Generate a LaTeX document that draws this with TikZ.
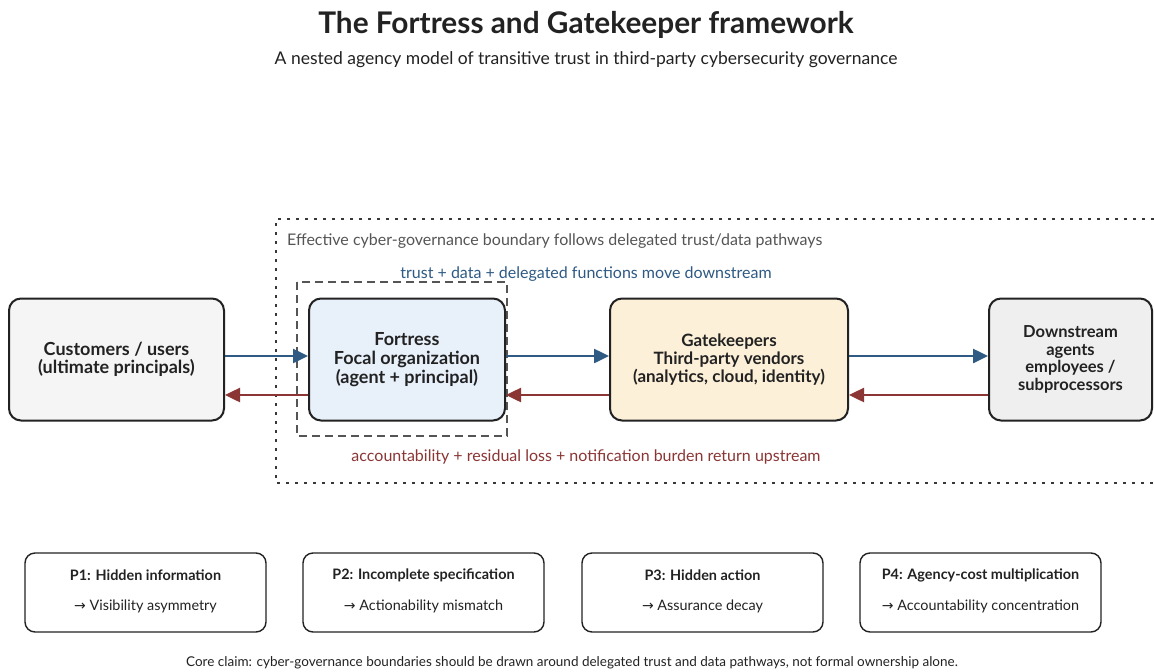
\documentclass[tikz,border=0pt]{standalone}
\usepackage{fontspec}
\setmainfont{Lato}
\newfontfamily\arrowfont{DejaVu Sans}
\usetikzlibrary{arrows.meta}
\definecolor{ink}{HTML}{222222}
\definecolor{bluec}{HTML}{2E5A84}
\definecolor{redc}{HTML}{8B3535}
\definecolor{grayt}{HTML}{555555}
\definecolor{custfill}{HTML}{F5F5F5}
\definecolor{fortfill}{HTML}{E8F0FA}
\definecolor{gatefill}{HTML}{FDF0D9}
\definecolor{downfill}{HTML}{EFEFEF}
\tikzset{
  mainbox/.style={draw=ink, line width=2pt, rounded corners=12pt, minimum height=122pt,
    align=center, text=ink, inner sep=2pt},
  pbox/.style={draw=ink, line width=1.4pt, rounded corners=10pt, minimum width=241pt,
    minimum height=79pt, inner sep=0pt},
  bluearr/.style={draw=bluec, line width=2.5pt, -{Triangle[length=15pt,width=14pt]}},
  redarr/.style={draw=redc, line width=2.5pt, -{Triangle[length=15pt,width=14pt]}},
  lbl/.style={font=\fontsize{16}{19}\selectfont, inner sep=0pt},
  ptitle/.style={font=\fontsize{14.4}{17}\selectfont\bfseries, text=ink, inner sep=0pt},
  ptext/.style={font=\fontsize{14.4}{17}\selectfont, text=ink, inner sep=0pt}
}
\newcommand{\rarr}{{\arrowfont\fontsize{14}{16}\selectfont →}}
\begin{document}
\begin{tikzpicture}[x=1pt,y=-1pt]
\useasboundingbox[fill=white] (0,0) rectangle (1154,672);

\node[font=\fontsize{29.8}{34}\selectfont\bfseries, text=ink, inner sep=0pt] (title) at (586,24.5) {The Fortress and Gatekeeper framework};
\node[font=\fontsize{17.5}{21}\selectfont, text=ink, inner sep=0pt] (sub) at (586,60) {A nested agency model of transitive trust in third-party cybersecurity governance};

% boundary
\draw[color=ink!90, line width=2pt, dash pattern=on 2.6pt off 6.4pt] (1154,219) -- (276,219) -- (276,483) -- (1154,483);
\node[lbl, text=grayt, anchor=west] (blab) at (287,241.5) {Effective cyber-governance boundary follows delegated trust/data pathways};

\node[lbl, text=bluec] (downlab) at (586,274) {trust + data + delegated functions move downstream};
\node[lbl, text=redc] (uplab) at (586,456.5) {accountability + residual loss + notification burden return upstream};

% dashed fortress frame
\draw[color=grayt, line width=1.8pt, dash pattern=on 8pt off 5pt] (297,282) rectangle (507,436);

\node[mainbox, fill=custfill, minimum width=215pt, font=\fontsize{18}{18.5}\selectfont\bfseries] (cust) at (116.5,359.5) {Customers / users\\(ultimate principals)};
\node[mainbox, fill=fortfill, minimum width=196pt, font=\fontsize{18}{19}\selectfont\bfseries] (fort) at (407,359.5) {Fortress\\Focal organization\\(agent + principal)};
\node[mainbox, fill=gatefill, minimum width=238pt, font=\fontsize{17}{18}\selectfont\bfseries] (gate) at (729,359.5) {Gatekeepers\\Third-party vendors\\(analytics, cloud, identity)};
\node[mainbox, fill=downfill, minimum width=163pt, font=\fontsize{16.5}{17.6}\selectfont\bfseries] (down) at (1070.5,359.5) {Downstream\\agents\\employees /\\subprocessors};

\draw[bluearr] ([yshift=3.5pt]cust.east) -- ([yshift=3.5pt]fort.west);
\draw[bluearr] ([yshift=3.5pt]fort.east) -- ([yshift=3.5pt]gate.west);
\draw[bluearr] ([yshift=3.5pt]gate.east) -- ([yshift=3.5pt]down.west);
\draw[redarr] ([yshift=-35.5pt]fort.west) -- ([yshift=-35.5pt]cust.east);
\draw[redarr] ([yshift=-35.5pt]gate.west) -- ([yshift=-35.5pt]fort.east);
\draw[redarr] ([yshift=-35.5pt]down.west) -- ([yshift=-35.5pt]gate.east);

% principle boxes
\node[pbox] (p1) at (145.5,592.5) {};
\node[pbox] (p2) at (423.5,592.5) {};
\node[pbox] (p3) at (702.5,592.5) {};
\node[pbox] (p4) at (980.5,592.5) {};
\node[ptitle] (p1t) at (145.5,575) {P1: Hidden information};
\node[ptext] (p1s) at (145.5,606) {\rarr\ Visibility asymmetry};
\node[ptitle] (p2t) at (423.5,575) {P2: Incomplete specification};
\node[ptext] (p2s) at (423.5,606) {\rarr\ Actionability mismatch};
\node[ptitle] (p3t) at (702.5,575) {P3: Hidden action};
\node[ptext] (p3s) at (702.5,606) {\rarr\ Assurance decay};
\node[ptitle] (p4t) at (980.5,575) {P4: Agency-cost multiplication};
\node[ptext] (p4s) at (980.5,606) {\rarr\ Accountability concentration};

\node[font=\fontsize{13.5}{16}\selectfont, text=ink, inner sep=0pt] (foot) at (572,662.5) {Core claim: cyber-governance boundaries should be drawn around delegated trust and data pathways, not formal ownership alone.};
\end{tikzpicture}
\end{document}
